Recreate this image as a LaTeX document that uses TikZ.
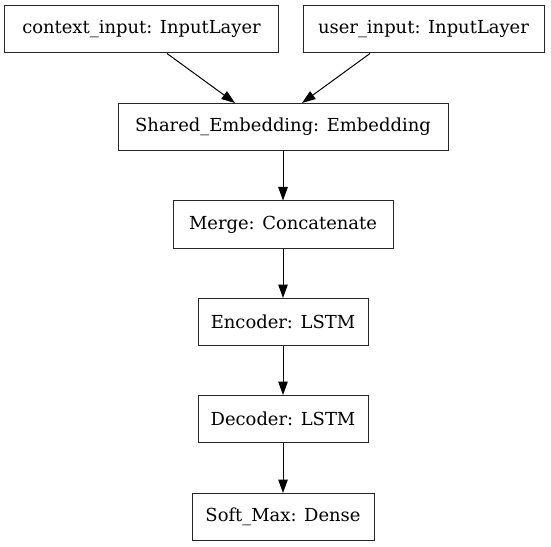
\documentclass[tikz,border=0pt]{standalone}
\usepackage{fontspec}
\setmainfont{DejaVu Serif}
\usetikzlibrary{arrows.meta}
\tikzset{
  layer/.style={draw=black!85, line width=1bp, minimum height=47bp, inner sep=0pt,
    font=\fontsize{18}{20}\selectfont},
  flow/.style={-{Triangle[length=13.5bp,width=9.5bp]}, line width=1bp}
}
\begin{document}
\begin{tikzpicture}[x=1bp,y=1bp]
\useasboundingbox (0,0) rectangle (551,-547);
% inputs
\node[layer, minimum width=273bp] (ctx) at (141.5,-29.5) {context\_input: InputLayer};
\node[layer, minimum width=241bp] (usr) at (423.5,-29.5) {user\_input: InputLayer};
% stack
\node[layer, minimum width=330bp] (emb) at (283,-127) {Shared\_Embedding: Embedding};
\node[layer, minimum width=220bp] (mrg) at (283,-224.5) {Merge: Concatenate};
\node[layer, minimum width=170bp] (enc) at (283,-322) {Encoder: LSTM};
\node[layer, minimum width=170bp] (dec) at (283,-419) {Decoder: LSTM};
\node[layer, minimum width=182bp] (smx) at (283,-517) {Soft\_Max: Dense};
% edges
\draw[flow] ([xshift=25.5bp]ctx.south) -- ([xshift=-48bp]emb.north);
\draw[flow] ([xshift=-53.5bp]usr.south) -- ([xshift=19bp]emb.north);
\draw[flow] (emb) -- (mrg);
\draw[flow] (mrg) -- (enc);
\draw[flow] (enc) -- (dec);
\draw[flow] (dec) -- (smx);
\end{tikzpicture}
\end{document}
